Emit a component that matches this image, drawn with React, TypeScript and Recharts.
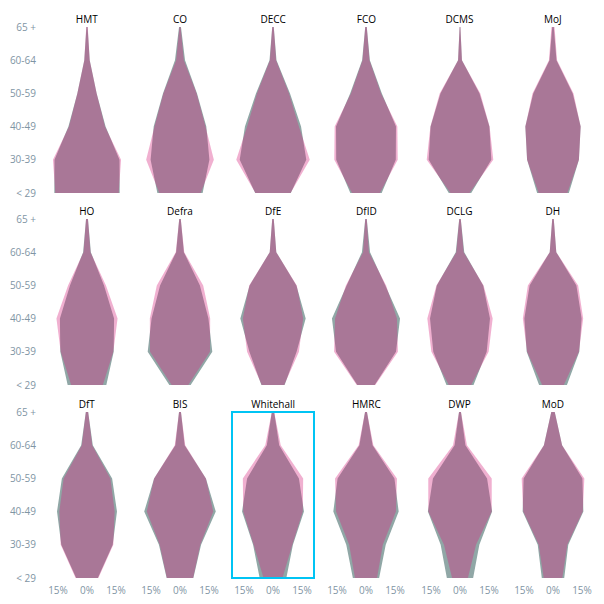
import React from "react"
import { ComposedChart, Area, XAxis, YAxis } from "recharts"

// age bands, top of each shape to bottom
const AGE_BANDS = ["65 +", "60-64", "50-59", "40-49", "30-39", "< 29"]

const DEPARTMENTS = [
  "HMT", "CO", "DECC", "FCO", "DCMS", "MoJ",
  "HO", "Defra", "DfE", "DfID", "DCLG", "DH",
  "DfT", "BIS", "Whitehall", "HMRC", "DWP", "MoD",
]

const X_TICKS = [-15, 0, 15]

// half-width of the grey shape per age band (% on the axis), same order as DEPARTMENTS
const GREY_SHARE = [
  [0.3, 1.4, 5.0, 9.6, 16.8, 16.9], // HMT
  [0.5, 2.6, 8.8, 13.6, 15.2, 11.7], // CO
  [0.4, 1.8, 8.8, 14.5, 17.2, 9.2], // DECC
  [0.4, 2.0, 8.2, 15.5, 15.4, 8.1], // FCO
  [0.2, 1.0, 10.1, 15.2, 16.2, 5.8], // DCMS
  [0.4, 1.8, 10.2, 14.3, 13.4, 8.2], // MoJ
  [0.5, 2.0, 8.8, 14.0, 13.8, 10.0], // HO
  [0.4, 2.0, 10.3, 14.7, 16.7, 5.5], // Defra
  [0.4, 1.7, 12.1, 16.9, 12.2, 6.0], // DfE
  [0.4, 2.1, 10.0, 17.6, 15.5, 4.5], // DfID
  [0.4, 2.2, 12.0, 15.5, 13.8, 7.0], // DCLG
  [0.4, 1.7, 12.1, 14.8, 13.6, 7.2], // DH
  [0.6, 3.0, 13.0, 15.5, 13.3, 5.6], // DfT
  [0.5, 2.4, 13.4, 18.5, 10.9, 6.9], // BIS
  [0.6, 3.2, 13.4, 16.0, 10.3, 6.9], // Whitehall
  [0.5, 3.4, 14.7, 16.9, 10.2, 6.8], // HMRC
  [0.5, 2.8, 14.0, 16.6, 10.0, 6.8], // DWP
  [0.9, 4.7, 15.2, 15.7, 7.9, 5.8], // MoD
]

// half-width of the pink shape per age band
const PINK_SHARE = [
  [0.4, 1.4, 5.0, 9.3, 17.6, 16.4], // HMT
  [0.3, 2.0, 8.6, 13.2, 17.5, 10.7], // CO
  [0.4, 1.6, 8.3, 13.4, 19.0, 9.1], // DECC
  [0.4, 1.8, 7.8, 16.2, 16.4, 7.2], // FCO
  [0.2, 1.0, 10.5, 15.3, 17.2, 4.9], // DCMS
  [0.8, 2.1, 10.6, 14.3, 13.4, 7.4], // MoJ
  [0.5, 1.8, 9.8, 15.8, 13.6, 8.2], // HO
  [0.4, 2.2, 12.0, 15.6, 15.5, 4.3], // Defra
  [0.4, 1.7, 12.3, 15.6, 13.4, 5.8], // DfE
  [0.4, 1.5, 10.4, 16.0, 16.5, 4.8], // DfID
  [0.4, 1.9, 12.2, 16.9, 14.8, 5.8], // DCLG
  [0.4, 1.7, 13.0, 15.6, 13.4, 5.6], // DH
  [0.6, 2.7, 12.1, 14.3, 13.6, 5.9], // DfT
  [0.5, 2.7, 13.4, 17.2, 10.5, 6.8], // BIS
  [0.6, 4.0, 15.6, 15.4, 10.0, 4.9], // Whitehall
  [0.5, 3.8, 16.0, 15.5, 8.7, 5.7], // HMRC
  [0.5, 3.6, 16.4, 16.4, 8.3, 4.1], // DWP
  [0.9, 4.7, 16.2, 15.4, 7.4, 4.8], // MoD
]

const FONT = "'Open Sans', sans-serif"
const LABEL_COLOR = "#7F95A4"
const GREY = "#90A7A6"
const PINK = "#D5247C"

const COL_STEP = 93.2
const FIRST_CENTER = 86.8
const ROW_TOPS = [27, 219, 412]
const PLOT_H = 166
const PAD = 9
const HALF_W = 47
const DOMAIN_MAX = 24.3
const Y_AXIS_W = 40
const X_AXIS_H = 26

function Panel({ index }: { index: number }) {
  const row = Math.floor(index / 6)
  const col = index % 6
  const name = DEPARTMENTS[index]
  const showY = col === 0
  const showX = row === 2
  const cx = FIRST_CENTER + col * COL_STEP
  const left = cx - HALF_W - (showY ? Y_AXIS_W : 0)
  const width = HALF_W * 2 + (showY ? Y_AXIS_W : 0)
  const height = PLOT_H + PAD * 2 + (showX ? X_AXIS_H : 0)

  const data = AGE_BANDS.map((age, i) => ({
    age,
    grey: [-GREY_SHARE[index][i], GREY_SHARE[index][i]],
    pink: [-PINK_SHARE[index][i], PINK_SHARE[index][i]],
  }))

  return (
    <>
      <div
        style={{
          position: "absolute",
          left: cx - 40,
          top: ROW_TOPS[row] - 15,
          width: 80,
          height: 14,
          lineHeight: "14px",
          textAlign: "center",
          fontFamily: FONT,
          fontSize: 10,
          color: "#000",
        }}
      >
        {name}
      </div>
      <div style={{ position: "absolute", left, top: ROW_TOPS[row] - PAD }}>
        <ComposedChart
          layout="vertical"
          width={width}
          height={height}
          data={data}
          margin={{ top: PAD, right: 0, bottom: PAD, left: 0 }}
        >
          <XAxis
            type="number"
            domain={[-DOMAIN_MAX, DOMAIN_MAX]}
            ticks={X_TICKS}
            hide={!showX}
            height={X_AXIS_H}
            axisLine={false}
            tickLine={false}
            tickSize={0}
            tickMargin={9}
            tickFormatter={(v: number) => `${Math.abs(v)}%`}
            tick={{ fill: LABEL_COLOR, fontSize: 10, fontFamily: FONT }}
            interval={0}
          />
          <YAxis
            type="category"
            dataKey="age"
            scale="point"
            hide={!showY}
            width={Y_AXIS_W}
            axisLine={false}
            tickLine={false}
            tickSize={0}
            tickMargin={4}
            interval={0}
            tick={{ fill: LABEL_COLOR, fontSize: 10, fontFamily: FONT }}
          />
          <Area
            type="linear"
            dataKey="grey"
            stroke="none"
            fill={GREY}
            fillOpacity={1}
            isAnimationActive={false}
          />
          <Area
            type="linear"
            dataKey="pink"
            stroke="none"
            fill={PINK}
            fillOpacity={0.36}
            isAnimationActive={false}
          />
        </ComposedChart>
      </div>
    </>
  )
}

export default function App() {
  return (
    <div
      style={{
        position: "absolute",
        left: 0,
        top: 0,
        width: 604,
        height: 604,
        background: "#fff",
        overflow: "hidden",
      }}
    >
      {DEPARTMENTS.map((d, i) => (
        <Panel key={d} index={i} />
      ))}
      {/* highlight around the Whitehall panel */}
      <div
        style={{
          position: "absolute",
          left: 231,
          top: 411,
          width: 84,
          height: 168,
          border: "2px solid #00C4F4",
          boxSizing: "border-box",
        }}
      />
    </div>
  )
}
